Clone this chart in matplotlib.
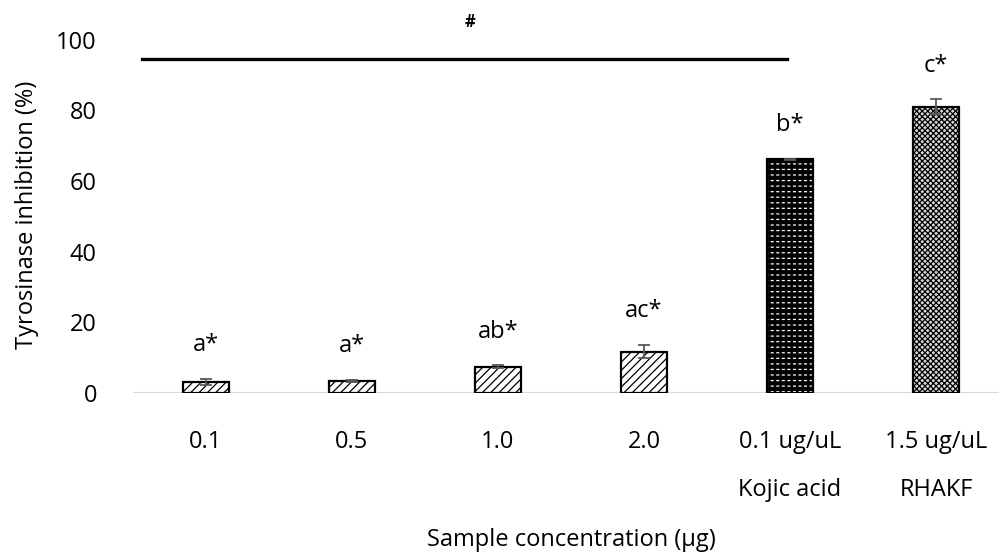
import matplotlib
matplotlib.use("Agg")
import matplotlib.pyplot as plt
import numpy as np

plt.rcParams['font.family'] = ['Open Sans', 'DejaVu Sans']
plt.rcParams['hatch.linewidth'] = 0.9

categories = ["0.1", "0.5", "1.0", "2.0", "0.1 ug/uL\nKojic acid", "1.5 ug/uL\nRHAKF"]
values = [3.2, 3.5, 7.5, 11.7, 66.2, 81.1]
errors = [0.8, 0.3, 0.3, 1.9, 0.2, 2.1]
letters = ["a*", "a*", "ab*", "ac*", "b*", "c*"]
hatches = ["////", "////", "////", "////", "---", "xxxxxx"]
faces = ["white", "white", "white", "white", "black", "#d9d9d9"]
hatch_cols = ["black", "black", "black", "black", "white", "black"]
breaks = [None, None, None, None, "|||", None]
yticks = [0, 20, 40, 60, 80, 100]
sig_span = (-0.44, 3.98)
sig_level = 94.5
sig_mark = "#"

FS = 17
W, H = 999, 559
fig = plt.figure(figsize=(W / 100, H / 100), dpi=100)
ax = fig.add_axes([133 / W, 166 / H, 866 / W, 392 / H])

x = np.arange(len(categories))
width = 0.32
ax.axhline(0, color="#d9d9d9", lw=1.5, zorder=1)
for i in range(len(x)):
    ax.bar(x[i], values[i], width, color=faces[i], edgecolor=hatch_cols[i],
           hatch=hatches[i], linewidth=0, zorder=2)
    if breaks[i]:
        with plt.rc_context({'hatch.linewidth': 1.8}):
            ax.bar(x[i], values[i], width, facecolor="none", edgecolor="black",
                   hatch=breaks[i], linewidth=0, zorder=2.5)
    ax.bar(x[i], values[i], width, facecolor="none", edgecolor="black",
           linewidth=1.6, zorder=3)
ax.errorbar(x, values, yerr=errors, fmt="none", ecolor="#595959",
            elinewidth=1.3, capsize=4.5, capthick=1.3, zorder=4)
for i in range(len(x)):
    ax.text(x[i], values[i] + errors[i] + 9.5, letters[i], ha="center",
            va="center", fontsize=FS)

ax.plot(sig_span, [sig_level, sig_level], color="black", lw=2.4, zorder=3)
ax.text(1.81, 105, sig_mark, ha="center", va="center", fontsize=12,
        fontweight="bold")

ax.set_xlim(-0.5, -0.5 + 866 / 146)
ax.set_ylim(0, 111)
ax.set_yticks(yticks)
ax.set_xticks(x)
ax.set_xticklabels(categories, linespacing=2.3)
ax.tick_params(axis="y", length=0, pad=26, labelsize=FS)
ax.tick_params(axis="x", length=0, pad=27, labelsize=FS)
for s in ax.spines.values():
    s.set_visible(False)

fig.text(27 / W, 1 - 215 / H, "Tyrosinase inhibition (%)", rotation=90,
         ha="center", va="center", fontsize=FS)
fig.text(571 / W, 1 - 540 / H, "Sample concentration (μg)", ha="center",
         va="center", fontsize=FS)

fig.savefig("out.png", dpi=100)
